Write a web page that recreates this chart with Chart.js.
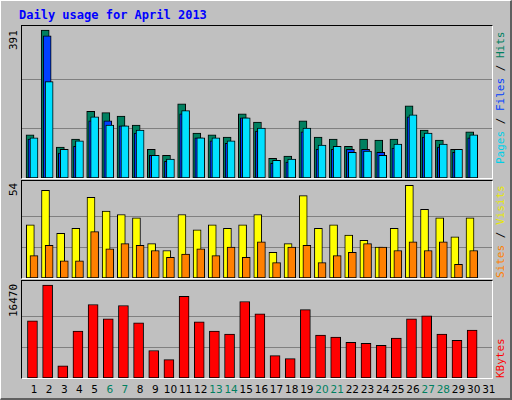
<!DOCTYPE html>
<html><head><meta charset="utf-8">
<script src="https://cdn.jsdelivr.net/npm/chart.js@4/dist/chart.umd.min.js"></script>
<style>
body{margin:0;background:#fff}
#wrap{position:absolute;left:0;top:0;background:#c0c0c0;border-left:1px solid #fff;border-top:1px solid #fff;border-right:2px solid #606060;border-bottom:2px solid #606060;width:509px;height:397px}
.p{position:absolute;left:20px;width:470px;border:1px solid #000;border-right-color:#fff;border-bottom-color:#fff}
.p canvas{position:absolute;left:0;top:0}
.t{position:absolute;font-family:'DejaVu Sans Mono',monospace;font-size:11px;white-space:nowrap;transform-origin:0 0;transform:rotate(-90deg)}
#title{position:absolute;left:18px;top:7px;font:bold 12px 'DejaVu Sans Mono',monospace;color:#0000ff}
</style></head><body>
<div id="wrap">
<div id="title">Daily usage for April 2013</div>
<div class="p" style="top:24px;height:152px"><canvas id="c1"></canvas></div>
<div class="p" style="top:179px;height:97px"><canvas id="c2"></canvas></div>
<div class="p" style="top:279px;height:97px"><canvas id="c3"></canvas></div>
<div class="t" style="left:6px;top:49px;color:#000">391</div>
<div class="t" style="left:6px;top:195px;color:#000">54</div>
<div class="t" style="left:6px;top:316px;color:#000">16470</div>
<div class="t" style="left:493px;top:163px"><span style="color:#00d0e8">Pages</span><span style="color:#000"> / </span><span style="color:#0040ff">Files</span><span style="color:#000"> / </span><span style="color:#008060">Hits</span></div>
<div class="t" style="left:493px;top:277px"><span style="color:#ff8000">Sites</span><span style="color:#000"> / </span><span style="color:#e8e800">Visits</span></div>
<div class="t" style="left:493px;top:377px"><span style="color:#ff0000">KBytes</span></div>
</div>
<script>
const days=['1','2','3','4','5','6','7','8','9','10','11','12','13','14','15','16','17','18','19','20','21','22','23','24','25','26','27','28','29','30','31'];
const weekend=[6,7,13,14,20,21,27,28];
const hits=[114,391,82,103,176,173,164,140,76,60,196,119,114,108,170,148,52,58,151,108,103,84,103,100,103,191,127,100,76,122,0];
const files=[103,376,66,84,151,151,138,119,60,44,170,106,98,92,159,124,39,42,122,76,76,76,76,68,79,162,108,82,68,106,0];
const pages=[106,255,76,98,162,140,138,127,60,50,178,106,106,98,159,132,47,50,132,87,84,68,71,60,90,167,119,90,76,114,0];
const visits=[31,51,26,29,47,39,37,35,20,16,37,28,31,29,31,37,15,20,48,29,31,25,22,18,29,54,40,35,24,35,0];
const sites=[13,19,10,10,27,17,20,19,16,12,14,17,13,18,12,21,9,18,19,9,13,15,20,18,16,21,16,21,8,16,0];
const kbytes=[10130,16470,2170,8320,13030,10490,12850,9770,4880,3260,14470,9950,8320,7780,13570,11400,3980,3440,12120,7600,7240,6330,6150,5790,7060,10490,11040,7780,6690,8500,0];

function ds(vals,off,color,w,order){
  return {data:vals.map((v,i)=>({x:i+off,y:v})),backgroundColor:color,borderColor:'#000',borderWidth:1,barThickness:w,grouped:false,borderSkipped:false,order:order};
}
function make(id,sets,max,top){
  const cv=document.getElementById(id);
  new Chart(cv,{type:'bar',data:{datasets:sets},options:{
    responsive:false,animation:false,devicePixelRatio:1,
    layout:{padding:0},
    plugins:{legend:{display:false},tooltip:{enabled:false}},
    scales:{
      x:{type:'linear',min:0,max:31,display:false,offset:false},
      y:{min:0,max:max,display:true,position:'left',
        afterBuildTicks:a=>{a.ticks=[{value:top/3},{value:top*2/3}];},
        ticks:{display:false},border:{display:false},
        grid:{color:'#808080',lineWidth:1,drawTicks:false}}
    }}});
}
function setSize(id,h){const c=document.getElementById(id);c.width=470;c.height=h;c.style.width='470px';c.style.height=h+'px';}
setSize('c1',152);setSize('c2',97);setSize('c3',97);
make('c1',[ds(hits,0.53,'#008060',8,3),ds(files,0.66,'#0040ff',8,2),ds(pages,0.79,'#00e0ff',8,1)],402,391);
make('c2',[ds(visits,0.55,'#ffff00',8,2),ds(sites,0.79,'#ff8000',8,1)],56.5,54);
make('c3',[ds(kbytes,0.69,'#ff0000',10,1)],17200,16470);
const wrap=document.getElementById('wrap');
days.forEach((d,i)=>{
  const s=document.createElement('div');
  s.textContent=d;
  s.style.cssText='position:absolute;top:382px;width:20px;text-align:center;font:10.5px "DejaVu Sans",sans-serif;left:'+(21+(i+0.79)*470/31-10)+'px;color:'+(weekend.includes(+d)?'#008060':'#000');
  wrap.appendChild(s);
});
</script>
</body></html>
